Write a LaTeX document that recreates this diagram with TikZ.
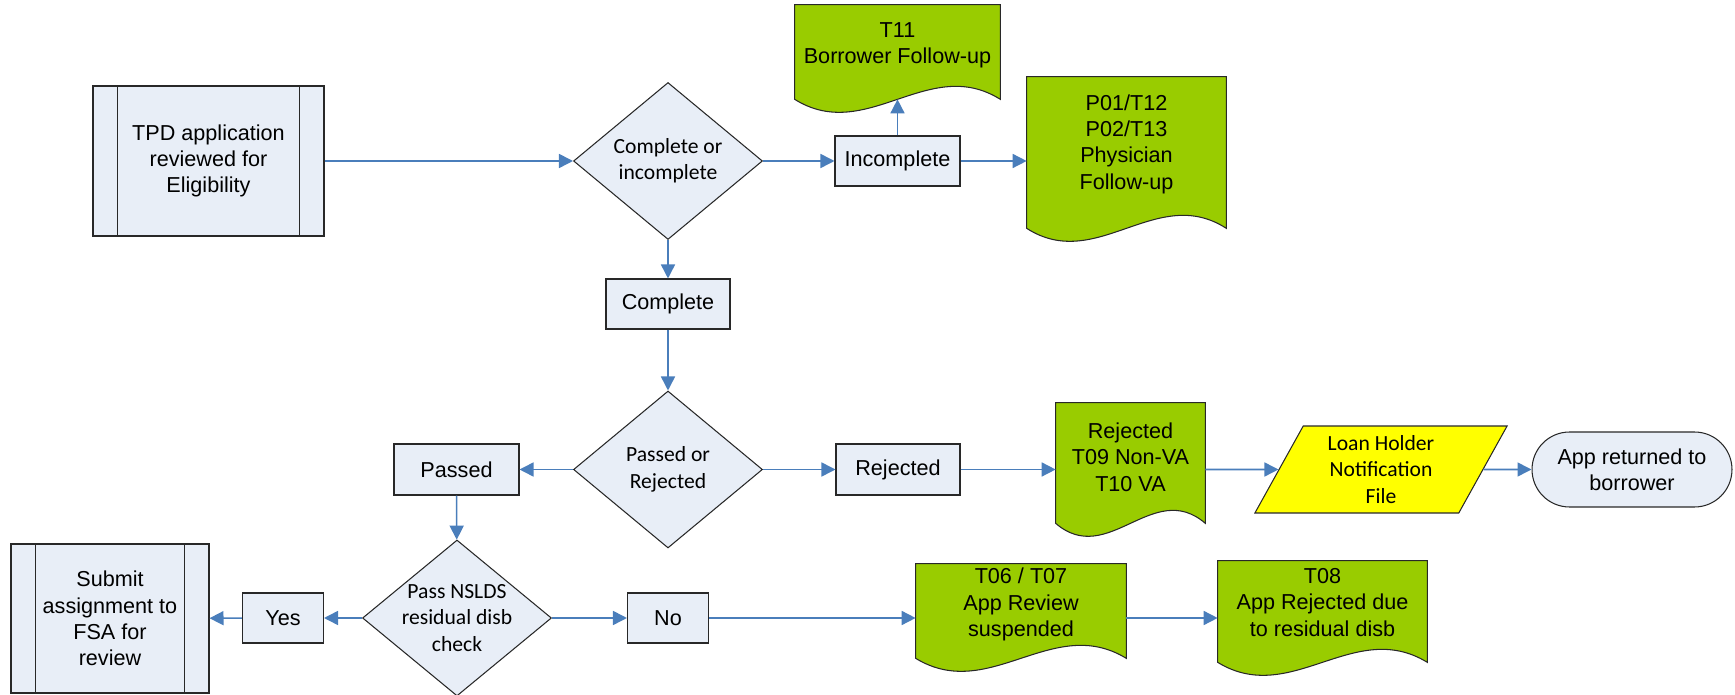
\documentclass[tikz,border=0pt]{standalone}
\usepackage{fontspec}
\setmainfont{Liberation Sans}
\newfontfamily\calibri{Carlito}
\usetikzlibrary{shapes.geometric,shapes.misc,arrows.meta,backgrounds,calc}

\definecolor{fc-BoxColor}{RGB}{232,238,247}
\definecolor{fc-DocColor}{RGB}{153,204,0}
\definecolor{fc-FileColor}{RGB}{255,255,0}
\definecolor{fc-FlowColor}{RGB}{74,126,187}
\definecolor{fc-BorderColor}{RGB}{40,40,40}
\tikzstyle{fc-base}=[draw=fc-BorderColor,
                     line width=0.6pt,
                     fill=fc-BoxColor,
                     text centered,
                     inner sep=0pt,
                     font=\fontsize{12.3}{15}\selectfont
                    ]
\tikzstyle{fc-label}=[fc-base, rectangle, minimum height=1cm]
\tikzstyle{fc-process}=[fc-base, rectangle,
                        minimum width=4.62cm, minimum height=3cm]
\tikzstyle{fc-decision}=[fc-base, diamond, aspect=1.2, inner sep=-3pt,
                         minimum width=3.78cm, minimum height=3.14cm,
                         font=\calibri\fontsize{12.3}{15}\selectfont]
\tikzstyle{fc-doc}=[rectangle, text centered, inner sep=0pt,
                    font=\fontsize{12.3}{15}\selectfont]
\tikzstyle{fc-docshape}=[draw=fc-BorderColor, line width=0.6pt, fill=fc-DocColor]
\tikzstyle{fc-file}=[fc-base, trapezium, fill=fc-FileColor,
                     trapezium left angle=64, trapezium right angle=116,
                     trapezium stretches=true,
                     minimum width=5.08cm, minimum height=1.74cm,
                     font=\calibri\fontsize{12.3}{15}\selectfont]
\tikzstyle{fc-terminal}=[fc-base, rounded rectangle,
                         minimum width=4cm, minimum height=1.5cm]
\tikzstyle{fc-flow}=[draw=fc-FlowColor, line width=0.9pt,
                     -{Triangle[length=0.28cm, width=0.28cm]}]

\begin{document}
\begin{tikzpicture}[x=0.02cm, y=-0.02cm, align=center]
    \useasboundingbox (0,0) rectangle (1735,695);

    % Intake
    % --------------------------------------------------------------------------
    \node at ( 208.5, 161) (tpd)        [fc-process]  {TPD application\\reviewed for\\Eligibility};
    \node at ( 668,   161) (ci)         [fc-decision] {Complete or\\incomplete};
    \node at ( 897.5, 161) (incomplete) [fc-label, minimum width=2.5cm] {Incomplete};
    \node at ( 897.5, 45.5) (t11)       [fc-doc, minimum width=4.1cm, minimum height=1.62cm] {T11\\Borrower Follow-up};
    \node at (1126.5, 144) (p01)        [fc-doc, minimum width=3.98cm, minimum height=2.68cm] {P01/T12\\P02/T13\\Physician\\Follow-up};
    \node at ( 668,   304) (complete)   [fc-label, minimum width=2.48cm] {Complete};

    % ------------------------------------------------------------------------
    \node at ( 668,   469.5) (pr)       [fc-decision] {Passed or\\Rejected};
    \node at ( 456.5, 469.5) (passed)   [fc-label, minimum width=2.5cm, minimum height=1.02cm] {Passed};
    \node at ( 898,   469.5) (rejected) [fc-label, minimum width=2.48cm, minimum height=1.02cm] {Rejected};
    \node at (1130.5, 457) (rejdoc)     [fc-doc, minimum width=2.98cm, minimum height=2.16cm] {Rejected\\T09 Non-VA\\T10 VA};
    \node at (1381,   469.5) (loan)     [fc-file] {Loan Holder\\Notification\\File};
    \node at (1632,   469.5) (ret)      [fc-terminal] {App returned to\\borrower};

    % ------------------------------------------------------------------------
    \node at ( 457,   618) (nslds)      [fc-decision, minimum height=3.12cm] {Pass NSLDS\\residual disb\\check};
    \node at ( 283,   618) (yes)        [fc-label, minimum width=1.62cm] {Yes};
    \node at ( 110,   618.5) (submit)   [fc-process, minimum width=3.96cm, minimum height=2.98cm] {Submit\\assignment to\\FSA for\\review};
    \node at ( 668,   618) (no)         [fc-label, minimum width=1.62cm] {No};
    \node at (1021,   604.5) (t06)      [fc-doc, minimum width=4.2cm, minimum height=1.62cm] {T06 / T07\\App Review\\suspended};
    \node at (1322.5, 602.5) (t08)      [fc-doc, minimum width=4.18cm, minimum height=1.66cm] {T08\\App Rejected due\\to residual disb};

    % Document shapes and process bars
    % --------------------------------------------------------------------------
    \begin{scope}[on background layer]
        \foreach \d/\e in {t11/0.26, p01/0.34, rejdoc/0.24, t06/0.26, t08/0.36} {
            \coordinate (se) at ([yshift=-\e cm]\d.south east);
            \coordinate (sw) at ([yshift=-\e cm]\d.south west);
            \filldraw[fc-docshape] (\d.north west) -- (\d.north east) -- (se)
                .. controls ($(se)!0.35!(sw)+(0,-45)$) and ($(sw)!0.35!(se)+(0,45)$) .. (sw) -- cycle;
        }
    \end{scope}
    \foreach \p in {tpd, submit} {
        \draw[fc-BorderColor, line width=0.6pt] ([xshift=0.5cm]\p.north west) -- ([xshift=0.5cm]\p.south west);
        \draw[fc-BorderColor, line width=0.6pt] ([xshift=-0.5cm]\p.north east) -- ([xshift=-0.5cm]\p.south east);
    }

    % Arrows
    % --------------------------------------------------------------------------
    \draw[fc-flow] (tpd)        -- (ci);
    \draw[fc-flow] (ci)         -- (incomplete);
    \draw[fc-flow] (incomplete) -- ([yshift=-0.26cm]t11.south);
    \draw[fc-flow] (incomplete) -- (incomplete -| p01.west);
    \draw[fc-flow] (ci)         -- (complete);
    \draw[fc-flow] (complete)   -- (pr);

    \draw[fc-flow] (pr)       -- (passed);
    \draw[fc-flow] (pr)       -- (rejected);
    \draw[fc-flow] (rejected) -- (rejected -| rejdoc.west);
    \draw[fc-flow] (rejected -| rejdoc.east) -- (loan);
    \draw[fc-flow] (loan)     -- (ret);

    \draw[fc-flow] (passed) -- (nslds);
    \draw[fc-flow] (nslds)  -- (yes);
    \draw[fc-flow] (yes)    -- (submit);
    \draw[fc-flow] (nslds)  -- (no);
    \draw[fc-flow] (no)     -- (no -| t06.west);
    \draw[fc-flow] (no -| t06.east) -- (no -| t08.west);

\end{tikzpicture}
\end{document}
